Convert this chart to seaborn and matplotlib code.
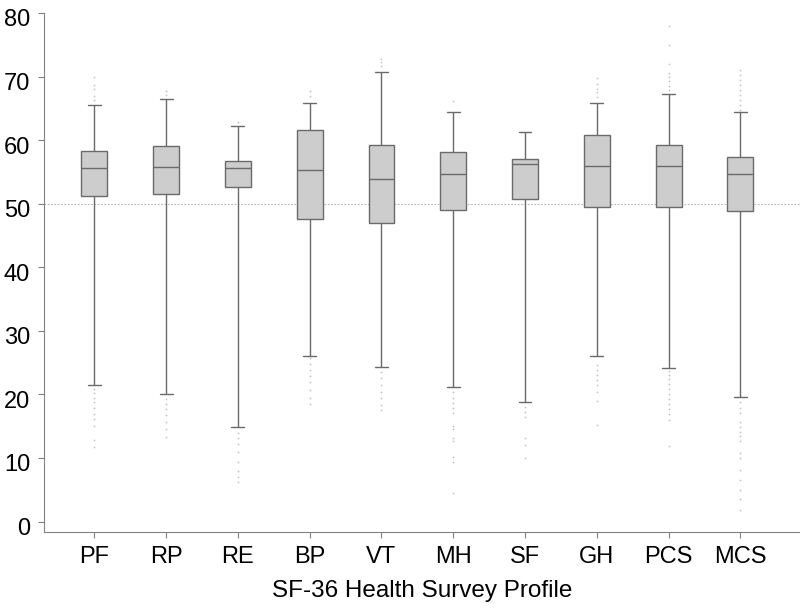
import matplotlib
matplotlib.use("Agg")
import matplotlib.pyplot as plt
import matplotlib.transforms as mtransforms
import seaborn as sns
import pandas as pd

categories = ["PF", "RP", "RE", "BP", "VT", "MH", "SF", "GH", "PCS", "MCS"]

whisker_low = [21.4, 20.0, 14.9, 26.1, 24.3, 21.1, 18.8, 26.0, 24.1, 19.6]
q1 = [51.2, 51.6, 52.6, 47.6, 47.0, 49.0, 50.7, 49.4, 49.4, 48.8]
median = [55.6, 55.7, 55.6, 55.3, 53.9, 54.6, 56.2, 55.9, 55.9, 54.6]
q3 = [58.3, 59.0, 56.7, 61.6, 59.2, 58.2, 57.1, 60.8, 59.3, 57.3]
whisker_high = [65.6, 66.4, 62.2, 65.8, 70.7, 64.4, 61.2, 65.8, 67.3, 64.4]

outliers = {
    "PF": [70.0, 68.7, 68.0, 67.0, 66.3,
           20.9, 20.2, 19.5, 18.8, 17.9, 16.9, 16.1, 15.0, 12.9, 11.8],
    "RP": [67.8, 67.1,
           19.3, 18.5, 17.7, 16.7, 15.7, 14.5, 13.3],
    "RE": [62.8,
           14.0, 13.2, 12.2, 11.0, 9.3, 8.0, 7.0, 6.2],
    "BP": [67.8, 67.0,
           25.7, 24.8, 23.9, 22.9, 21.9, 20.7, 19.5, 18.5],
    "VT": [72.7, 72.3, 71.6,
           23.5, 22.5, 21.4, 20.4, 19.4, 18.4, 17.6],
    "MH": [66.2,
           20.4, 19.4, 18.6, 17.8, 17.0, 15.1, 14.6, 13.1, 12.6, 10.2, 9.4, 4.5],
    "SF": [18.0, 17.2, 16.5, 13.2, 12.1, 10.0],
    "GH": [69.7, 68.8, 68.1, 67.5, 66.8,
           24.7, 23.9, 23.1, 22.2, 21.4, 20.4, 18.9, 15.2],
    "PCS": [77.9, 75.0, 71.9, 70.6, 70.0, 69.3, 68.5, 67.9,
            23.7, 23.1, 22.4, 21.7, 20.9, 20.1, 19.3, 18.5, 17.7, 16.9, 16.0, 11.9],
    "MCS": [71.0, 70.2, 69.4, 68.7, 67.9, 67.1, 66.3, 65.5, 64.8,
            18.8, 17.8, 17.0, 15.7, 14.9, 14.1, 13.4, 12.6, 10.8, 10.0, 8.1, 6.5, 4.9, 3.6, 1.8],
}

xlabel = "SF-36 Health Survey Profile"
ref_value = 50
yticks = [0, 10, 20, 30, 40, 50, 60, 70, 80]

# box table: five summary values per category
rows = []
for i, c in enumerate(categories):
    for v in (whisker_low[i], q1[i], median[i], q3[i], whisker_high[i]):
        rows.append({"profile": c, "score": v})
box_df = pd.DataFrame(rows)

out_rows = [{"profile": c, "score": v} for c in categories for v in outliers[c]]
out_df = pd.DataFrame(out_rows)

sns.set_theme(style="ticks")
plt.rcParams["font.family"] = ["Liberation Sans", "DejaVu Sans"]

fig = plt.figure(figsize=(8.0, 6.12), dpi=100)
ax = fig.add_axes([0.055, 0.1307, 0.945, 0.8481])

edge = "#6a6a6a"
ax.axhline(ref_value, color="#b4b4b4", lw=0.8, ls=(0, (1.5, 1.5)), zorder=0)

sns.stripplot(data=out_df, x="profile", y="score", order=categories,
              jitter=False, size=1.3, color="#c4c4c4", linewidth=0, ax=ax, zorder=1)

sns.boxplot(data=box_df, x="profile", y="score", order=categories,
            whis=(0, 100), showfliers=False, width=0.36,
            color="#cdcdcd", linecolor=edge, linewidth=1.0,
            boxprops=dict(facecolor="#cdcdcd", edgecolor=edge),
            ax=ax, zorder=2)

ax.set_xlim(-0.70, 9.83)
ax.set_ylim(-1.65, 80)
ax.set_yticks(yticks)
ax.set_yticklabels([str(t) for t in yticks])
ax.set_xlabel(xlabel, fontsize=17.5, labelpad=9, color="black")
ax.set_ylabel("")
ax.tick_params(axis="both", labelsize=17, colors="#808080", labelcolor="black",
               length=4, width=0.8)
ax.tick_params(axis="y", pad=6)
ax.tick_params(axis="x", pad=6)
for s in ("top", "right"):
    ax.spines[s].set_visible(False)
for s in ("left", "bottom"):
    ax.spines[s].set_color("#808080")
    ax.spines[s].set_linewidth(0.8)

# reference renderer places y tick labels a few pixels below their ticks
shift = mtransforms.ScaledTranslation(0, -0.05, fig.dpi_scale_trans)
for lab in ax.get_yticklabels():
    lab.set_transform(lab.get_transform() + shift)

fig.savefig("out.png", dpi=100)
